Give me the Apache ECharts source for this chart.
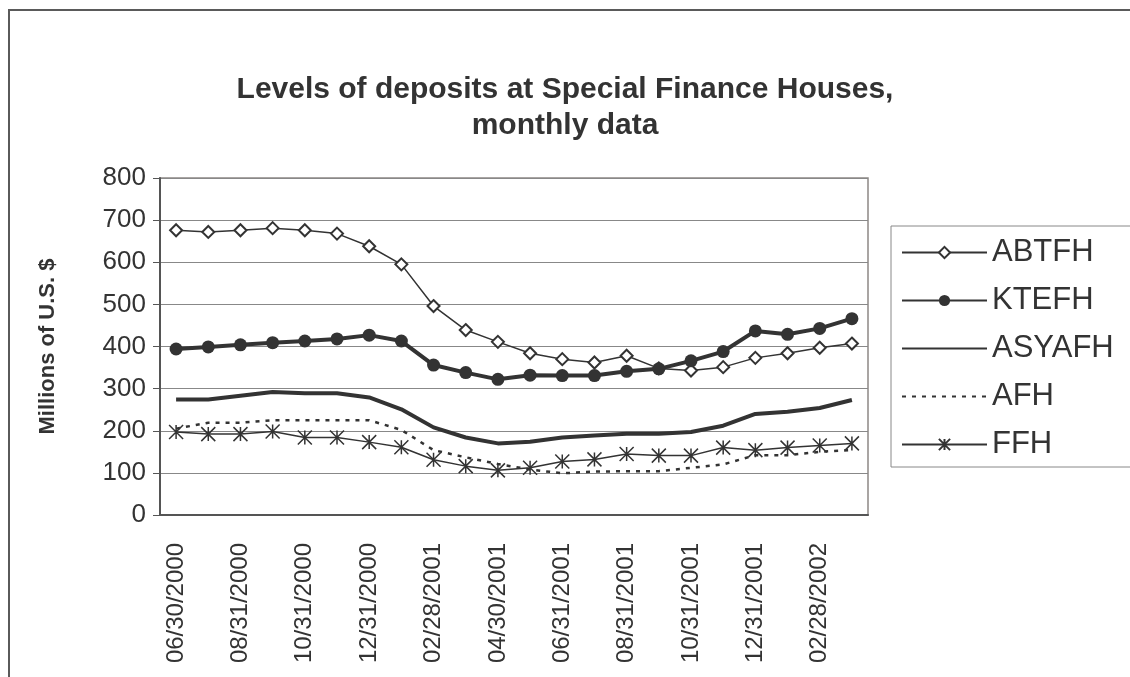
<!DOCTYPE html>
<html>
<head>
<meta charset="utf-8">
<title>Levels of deposits at Special Finance Houses</title>
<script src="https://cdn.jsdelivr.net/npm/echarts@6/dist/echarts.min.js"></script>
<style>
  html, body { margin: 0; padding: 0; background: #fff; }
  #chart { width: 1130px; height: 677px; }
</style>
</head>
<body>
<div id="chart"></div>
<script>
// month-end dates, labels shown every other month
const months = [
  '06/30/2000', '07/31/2000', '08/31/2000', '09/30/2000', '10/31/2000', '11/30/2000',
  '12/31/2000', '01/31/2001', '02/28/2001', '03/31/2001', '04/30/2001', '05/31/2001',
  '06/31/2001', '07/31/2001', '08/31/2001', '09/30/2001', '10/31/2001', '11/30/2001',
  '12/31/2001', '01/31/2002', '02/28/2002', '03/31/2002'
]

const abtfh = [676, 672, 676, 681, 676, 668, 638, 595, 496, 439, 411, 384, 370, 362, 378, 348, 343, 351, 373, 384, 397, 407]
const ktefh = [394, 399, 404, 409, 413, 418, 427, 413, 356, 338, 322, 332, 331, 331, 341, 347, 366, 388, 437, 429, 443, 466]
const asyafh = [274, 274, 283, 292, 289, 289, 279, 251, 208, 184, 170, 174, 184, 189, 193, 193, 197, 212, 240, 245, 254, 273]
const afh = [205, 219, 219, 225, 225, 225, 225, 202, 154, 137, 121, 108, 99, 103, 104, 104, 112, 120, 142, 142, 150, 154]
const ffh = [197, 192, 192, 198, 184, 184, 173, 161, 131, 116, 106, 112, 127, 132, 145, 141, 141, 160, 154, 160, 165, 170]

const yTicks = { min: 0, max: 800, step: 100 }

const FONT = "'Liberation Sans', Arial, sans-serif"
const INK = '#333333'
const asterisk = 'path://M0,0L10,10M10,0L0,10M5,0L5,10'

const chart = echarts.init(document.getElementById('chart'), null, { renderer: 'canvas' })

const option = {
  animation: false,
  backgroundColor: '#fff',
  textStyle: { fontFamily: FONT, color: INK },
  graphic: [
    {
      type: 'rect',
      silent: true,
      z: -10,
      shape: { x: 9, y: 10, width: 1300, height: 900 },
      style: { fill: 'none', stroke: '#5a5a5a', lineWidth: 2 }
    }
  ],
  title: {
    text: 'Levels of deposits at Special Finance Houses,\nmonthly data',
    left: 'center',
    top: 67,
    textStyle: {
      fontFamily: FONT,
      fontSize: 30,
      fontWeight: 'bold',
      color: INK,
      lineHeight: 36
    }
  },
  legend: {
    orient: 'vertical',
    left: 891,
    top: 226,
    padding: [11, 60, 7, 10],
    itemWidth: 85,
    itemHeight: 14,
    itemGap: 17,
    borderColor: '#888',
    borderWidth: 1,
    backgroundColor: '#fff',
    textStyle: { fontFamily: FONT, fontSize: 31, color: INK, lineHeight: 31 },
    data: [
      { name: 'ABTFH' },
      { name: 'KTEFH' },
      { name: 'ASYAFH', itemStyle: { opacity: 0 } },
      { name: 'AFH', itemStyle: { opacity: 0 } },
      { name: 'FFH' }
    ]
  },
  grid: {
    left: 160,
    right: 262,
    top: 178,
    bottom: 162,
    show: true,
    borderColor: '#8d8885',
    borderWidth: 1.5
  },
  xAxis: {
    type: 'category',
    data: months,
    boundaryGap: true,
    axisLine: { lineStyle: { color: '#555', width: 2 } },
    axisTick: { interval: 0, length: 7, lineStyle: { color: '#555' } },
    axisLabel: {
      interval: 1,
      rotate: 90,
      fontFamily: FONT,
      fontSize: 24,
      color: INK,
      margin: 28
    },
    splitLine: { show: false }
  },
  yAxis: {
    type: 'value',
    min: yTicks.min,
    max: yTicks.max,
    interval: yTicks.step,
    name: 'Millions of U.S. $',
    nameLocation: 'middle',
    nameGap: 101,
    nameTextStyle: { fontFamily: FONT, fontSize: 22, fontWeight: 'bold', color: INK },
    axisLine: { show: true, lineStyle: { color: '#555', width: 2 } },
    axisTick: { show: true, length: 7, lineStyle: { color: '#555' } },
    axisLabel: { fontFamily: FONT, fontSize: 26, color: INK, margin: 14 },
    splitLine: { lineStyle: { color: '#888', width: 1 } }
  },
  series: [
    {
      name: 'ABTFH',
      type: 'line',
      data: abtfh,
      symbol: 'emptyDiamond',
      symbolSize: 12,
      lineStyle: { color: INK, width: 1.5 },
      itemStyle: { color: INK, borderColor: INK, borderWidth: 1.5 }
    },
    {
      name: 'KTEFH',
      type: 'line',
      data: ktefh,
      symbol: 'circle',
      symbolSize: 13,
      lineStyle: { color: INK, width: 4 },
      itemStyle: { color: INK }
    },
    {
      name: 'ASYAFH',
      type: 'line',
      data: asyafh,
      symbol: 'none',
      lineStyle: { color: INK, width: 4 },
      itemStyle: { color: INK }
    },
    {
      name: 'AFH',
      type: 'line',
      data: afh,
      symbol: 'none',
      lineStyle: { color: INK, width: 2.5, type: [4, 6] },
      itemStyle: { color: INK }
    },
    {
      name: 'FFH',
      type: 'line',
      data: ffh,
      symbol: asterisk,
      symbolSize: 14,
      lineStyle: { color: INK, width: 1.5 },
      itemStyle: { color: INK, borderColor: INK, borderWidth: 1.5 }
    }
  ]
}

chart.setOption(option)

window.addEventListener('resize', () => {
  chart.resize()
})
</script>
</body>
</html>
